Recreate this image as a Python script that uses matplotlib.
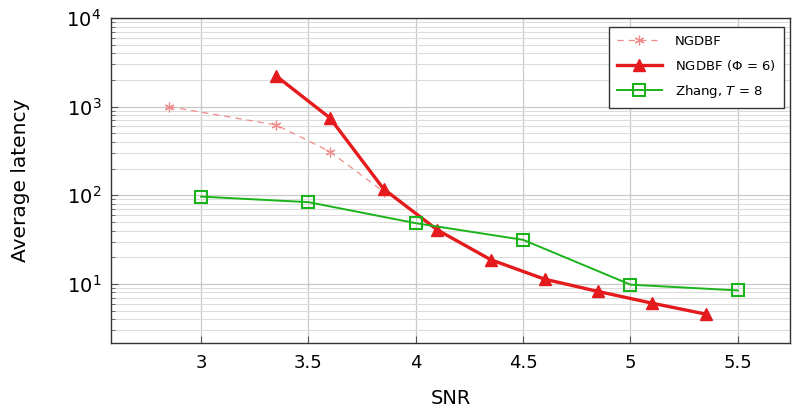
import numpy as np
import matplotlib.pyplot as plt

plt.rcParams['font.family'] = ['DejaVu Sans']
plt.rcParams['mathtext.fontset'] = 'dejavusans'

# NGDBF (dashed, light)
snr_ngdbf = [2.85, 3.35, 3.6, 3.85]
lat_ngdbf = [1000, 622, 311, 110]

# NGDBF (Phi = 6)
snr_phi = [3.35, 3.6, 3.85, 4.1, 4.35, 4.6, 4.85, 5.1, 5.35]
lat_phi = [2220, 747, 118, 40.7, 18.7, 11.3, 8.2, 6.06, 4.56]

# Zhang, T = 8
snr_zhang = [3.0, 3.5, 4.0, 4.5, 5.0, 5.5]
lat_zhang = [96.6, 83.6, 48.4, 31.4, 9.8, 8.43]

xticks = [3, 3.5, 4, 4.5, 5, 5.5]

fig = plt.figure(figsize=(7.92, 4.11), dpi=100)
ax = fig.add_axes([0.140, 0.165, 0.858, 0.791])

ax.plot(snr_ngdbf, lat_ngdbf, color='#f08c8c', ls=(0, (5, 4)), lw=0.9,
        marker=(6, 2, 0), ms=7, mew=0.9, label='NGDBF', zorder=3)
ax.plot(snr_phi, lat_phi, color='#e41a1c', lw=2.4, marker='^', ms=9,
        label=r'NGDBF ($\Phi$ = 6)', zorder=4)
ax.plot(snr_zhang, lat_zhang, color='#1ab31a', lw=1.4, marker='s', ms=8,
        mfc='none', mew=1.5, label=r'Zhang, $T$ = 8', zorder=5)

ax.set_yscale('log')
ax.set_xlim(2.58, 5.745)
ax.set_ylim(2.14, 1e4)
ax.set_xticks(xticks)
ax.set_xticklabels([str(v) for v in xticks])

ax.grid(True, which='major', color='#c8c8c8', lw=0.9)
ax.grid(True, which='minor', axis='y', color='#dcdcdc', lw=0.8)
ax.tick_params(which='both', direction='in', color='#555555')
ax.tick_params(which='major', length=5)
ax.tick_params(which='minor', length=3)
ax.tick_params(axis='x', pad=8, labelsize=13)
ax.tick_params(axis='y', pad=7, labelsize=14)
for s in ax.spines.values():
    s.set_color('#333333')
    s.set_linewidth(1.0)

ax.set_xlabel('SNR', fontsize=14, labelpad=12)
ax.set_ylabel('Average latency', fontsize=14.5, labelpad=26)

leg = ax.legend(loc='upper right', bbox_to_anchor=(0.99, 0.972), borderaxespad=0,
                fontsize=9.5, fancybox=False, framealpha=1, edgecolor='#333333',
                handlelength=3.4, borderpad=0.6, labelspacing=0.75,
                handletextpad=1.0)
leg.get_frame().set_linewidth(1.0)

fig.savefig('out.png', dpi=100)
